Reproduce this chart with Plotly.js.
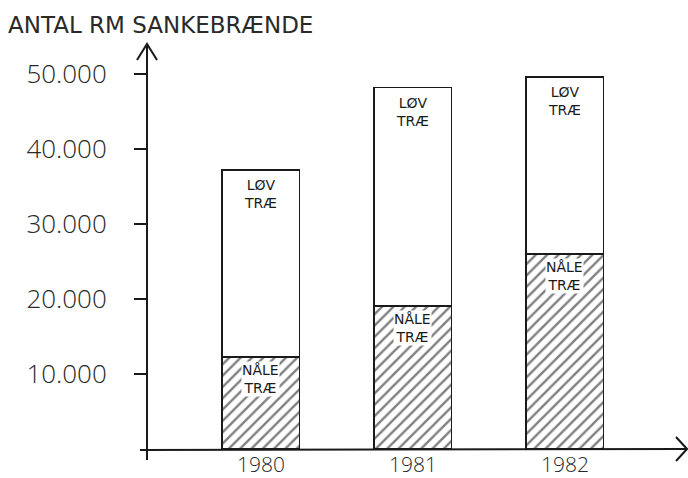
<!DOCTYPE html>
<html>
<head>
<meta charset="utf-8">
<script src="https://cdn.plot.ly/plotly-3.0.1.min.js"></script>
<style>html,body{margin:0;padding:0;background:#fff;}#chart{width:688px;height:478px;}</style>
</head>
<body>
<div id="chart"></div>
<script>
// ---- data ----
const years = [1980, 1981, 1982];
const yearLabels = ['1980', '1981', '1982'];
const naaletrae = [12300, 19100, 26000];   // NÅLETRÆ (hatched)
const loevtrae = [24900, 29100, 23600];    // LØVTRÆ (white)
const yTickVals = [10000, 20000, 30000, 40000, 50000];
const yTickText = ['10.000', '20.000', '30.000', '40.000', '50.000'];
const titleText = 'ANTAL RM SANKEBRÆNDE';
const loevLabel = 'LØV<br>TRÆ';
const naaleLabel = 'NÅLE<br>TRÆ';

// ---- layout helpers ----
const W = 688, H = 478;
const M = {l: 147, r: 0, t: 44, b: 29};
const pw = W - M.l - M.r, ph = H - M.t - M.b;
const px = p => (p - M.l) / pw;          // pixel x -> paper x
const py = q => (H - M.b - q) / ph;      // pixel y -> paper y
const ink = '#1a1a1a';
const hand = {family: 'Open Sans, Lato, DejaVu Sans, sans-serif', color: '#2a2a2a', weight: 300};
const caps = {family: 'DejaVu Sans, sans-serif', color: ink};

const totals = years.map((y, i) => naaletrae[i] + loevtrae[i]);

const traces = [
  {
    type: 'bar', x: years, y: naaletrae, width: 0.51,
    marker: {color: 'white', line: {color: ink, width: 1.5},
      pattern: {shape: '/', fgcolor: '#000', bgcolor: 'white', size: 8, solidity: 0.3, fillmode: 'overlay'}},
    hoverinfo: 'none', showlegend: false
  },
  {
    type: 'bar', x: years, y: loevtrae, width: 0.51,
    marker: {color: 'white', line: {color: ink, width: 1.5}},
    hoverinfo: 'none', showlegend: false
  }
];

const annotations = [];
years.forEach((yr, i) => {
  annotations.push({x: yr, y: totals[i], xref: 'x', yref: 'y', yanchor: 'top', yshift: -5,
    text: loevLabel, showarrow: false, font: Object.assign({}, caps, {size: 14}), align: 'center'});
  annotations.push({x: yr, y: naaletrae[i], xref: 'x', yref: 'y', yanchor: 'top', yshift: -4,
    text: naaleLabel, showarrow: false, bgcolor: 'white', borderpad: 0,
    font: Object.assign({}, caps, {size: 14}), align: 'center'});
});

const ln = {color: ink, width: 2};
const shapes = [
  // x axis line (extends slightly left of y axis)
  {type: 'line', xref: 'paper', yref: 'paper', x0: px(140), x1: px(686), y0: py(450), y1: py(449), line: ln},
  // y axis line
  {type: 'line', xref: 'paper', yref: 'paper', x0: px(147), x1: px(147), y0: py(460), y1: py(45), line: ln},
  // y arrowhead
  {type: 'path', xref: 'paper', yref: 'paper', line: ln,
    path: `M ${px(137)} ${py(60)} L ${px(147)} ${py(44)} L ${px(157)} ${py(60)}`},
  // x arrowhead
  {type: 'path', xref: 'paper', yref: 'paper', line: ln,
    path: `M ${px(676)} ${py(437)} L ${px(687)} ${py(449)} L ${px(676)} ${py(461)}`}
];

const layout = {
  width: W, height: H,
  margin: M,
  paper_bgcolor: 'white', plot_bgcolor: 'white',
  barmode: 'stack',
  title: {text: titleText, x: 8 / W, xanchor: 'left', xref: 'container', y: 1 - 25 / H, yanchor: 'middle',
    yref: 'container', font: {family: 'DejaVu Sans, sans-serif', color: '#2a2a2a', size: 23}},
  xaxis: {range: [1979.25, 1982.81], tickvals: years, ticktext: yearLabels, showgrid: false, zeroline: false,
    showline: false, ticks: '', ticklabelstandoff: 1, tickfont: Object.assign({}, hand, {size: 21}), fixedrange: true},
  yaxis: {range: [0, 54000], tickvals: yTickVals, ticktext: yTickText, showgrid: false, zeroline: false,
    showline: false, ticks: 'outside', ticklen: 12, tickwidth: 1.5, tickcolor: ink, ticklabelstandoff: 22,
    tickfont: Object.assign({}, hand, {size: 26}), fixedrange: true},
  shapes: shapes,
  annotations: annotations
};

Plotly.newPlot('chart', traces, layout, {displayModeBar: false, staticPlot: true});
</script>
</body>
</html>
